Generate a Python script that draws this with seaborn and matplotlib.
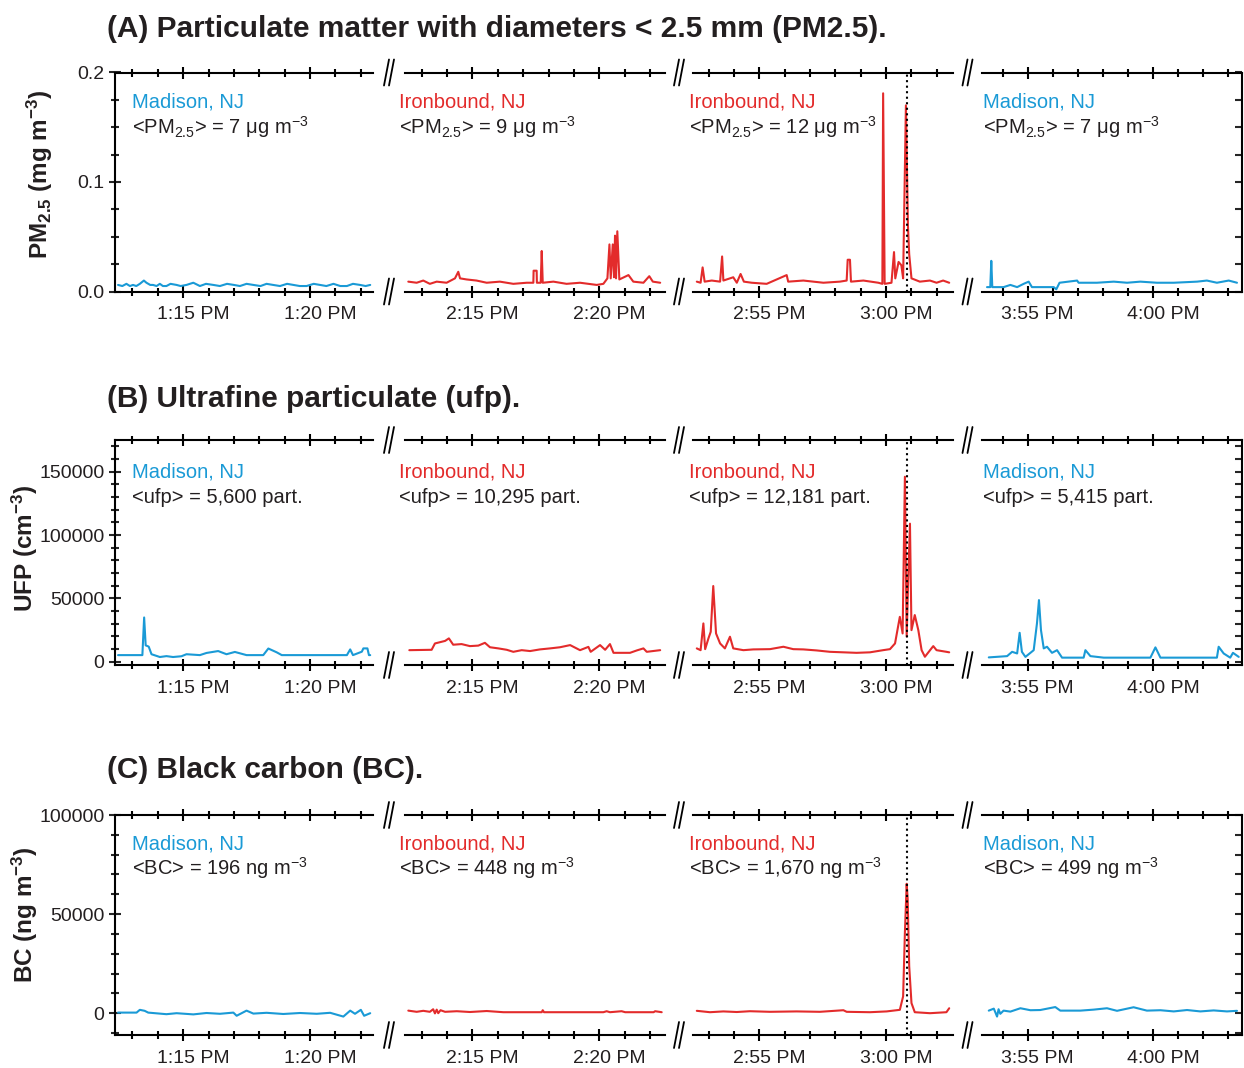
import numpy as np
import pandas as pd
import matplotlib
matplotlib.use('Agg')
import matplotlib.pyplot as plt
import seaborn as sns
from matplotlib.ticker import MultipleLocator, FuncFormatter, FormatStrFormatter
from matplotlib.lines import Line2D
from matplotlib.transforms import ScaledTranslation

# tiempos en minutos despues de las 12:00 PM
# ---- PM2.5 (mg m-3) ----
pm_t1 = [72.43, 72.60, 72.76, 72.90, 73.02, 73.15, 73.29, 73.45, 73.55, 73.70, 73.81, 73.95, 74.08, 74.20,
         74.34, 74.50, 74.74, 74.90, 75.13, 75.40, 75.66, 75.90, 76.19, 76.45, 76.73, 77.00, 77.24, 77.50,
         77.77, 78.05, 78.29, 78.55, 78.82, 79.10, 79.35, 79.60, 79.87, 80.15, 80.40, 80.65, 80.93, 81.20,
         81.46, 81.70, 81.98, 82.20, 82.38]
pm_v1 = [0.006, 0.005, 0.007, 0.005, 0.006, 0.005, 0.007, 0.010, 0.008, 0.006, 0.006, 0.005, 0.007, 0.005,
         0.005, 0.007, 0.006, 0.005, 0.006, 0.008, 0.005, 0.007, 0.006, 0.005, 0.007, 0.006, 0.005, 0.007,
         0.006, 0.005, 0.007, 0.006, 0.005, 0.007, 0.006, 0.005, 0.005, 0.007, 0.006, 0.005, 0.007, 0.005,
         0.005, 0.007, 0.006, 0.005, 0.006]
pm_t2 = [132.47, 132.80, 133.06, 133.32, 133.59, 133.98, 134.31, 134.44, 134.51, 134.77, 135.16, 135.56,
         136.08, 136.61, 137.14, 137.40, 137.41, 137.53, 137.54, 137.69, 137.73, 137.77, 138.19, 138.71,
         139.24, 139.90, 140.16, 140.32, 140.40, 140.45, 140.53, 140.58, 140.62, 140.66, 140.71, 140.79,
         141.15, 141.34, 141.74, 141.97, 142.11, 142.40]
pm_v2 = [0.009, 0.008, 0.010, 0.007, 0.009, 0.008, 0.012, 0.018, 0.012, 0.011, 0.010, 0.008,
         0.009, 0.007, 0.008, 0.008, 0.019, 0.019, 0.008, 0.008, 0.037, 0.008, 0.009, 0.007,
         0.008, 0.006, 0.007, 0.012, 0.043, 0.012, 0.043, 0.013, 0.051, 0.012, 0.055, 0.011,
         0.015, 0.009, 0.008, 0.014, 0.009, 0.008]
pm_t3 = [172.53, 172.68, 172.76, 172.84, 173.12, 173.45, 173.53, 173.58, 173.97, 174.11, 174.26, 174.39,
         174.70, 175.29, 176.08, 176.14, 176.74, 177.53, 178.18, 178.45, 178.49, 178.58, 178.62, 179.11,
         179.70, 179.86, 179.89, 179.95, 180.22, 180.32, 180.37, 180.50, 180.61, 180.68, 180.79, 180.87,
         180.92, 181.01, 181.34, 181.74, 182.00, 182.26, 182.50]
pm_v3 = [0.009, 0.008, 0.022, 0.009, 0.010, 0.009, 0.032, 0.010, 0.013, 0.008, 0.016, 0.009,
         0.008, 0.007, 0.015, 0.009, 0.010, 0.008, 0.009, 0.010, 0.029, 0.029, 0.009, 0.010,
         0.008, 0.007, 0.181, 0.007, 0.008, 0.036, 0.012, 0.027, 0.024, 0.012, 0.170, 0.060,
         0.034, 0.012, 0.009, 0.010, 0.008, 0.010, 0.008]
pm_t4 = [233.38, 233.51, 233.55, 233.59, 234.04, 234.31, 234.58, 234.84, 235.04, 235.17, 235.64, 236.04,
         236.14, 236.27, 236.97, 237.03, 237.76, 238.43, 238.96, 239.49, 240.15, 240.82, 241.75, 242.14,
         242.54, 243.01, 243.34]
pm_v4 = [0.004, 0.004, 0.028, 0.004, 0.004, 0.006, 0.004, 0.007, 0.009, 0.004, 0.004, 0.004,
         0.002, 0.008, 0.010, 0.008, 0.008, 0.009, 0.008, 0.009, 0.008, 0.008, 0.009, 0.010,
         0.008, 0.010, 0.008]

# ---- UFP (cm-3) ----
ufp_t1 = [72.43, 73.39, 73.46, 73.52, 73.64, 73.75, 74.08, 74.34, 74.60, 74.93, 75.13, 75.66, 75.92,
          76.38, 76.71, 77.04, 77.50, 78.16, 78.36, 78.69, 78.89, 80.67, 81.46, 81.59, 81.70, 82.05,
          82.11, 82.27, 82.33, 82.38]
ufp_v1 = [5300, 5300, 35000, 13000, 12000, 6000, 3800, 4500, 3800, 4400, 6000, 5300, 7000,
          8500, 6000, 7800, 5300, 5300, 10500, 7500, 5300, 5300, 5300, 9800, 5300, 8000,
          10600, 10600, 5300, 5300]
ufp_t2 = [132.51, 133.39, 133.52, 133.78, 133.92, 134.07, 134.24, 134.57, 134.90, 135.23, 135.49, 135.69,
          136.02, 136.35, 136.61, 136.94, 137.27, 137.66, 138.06, 138.45, 138.85, 139.24, 139.57, 139.66,
          140.03, 140.23, 140.42, 140.56, 141.21, 141.48, 141.74, 141.87, 142.40]
ufp_v2 = [9200, 9500, 14500, 15800, 16500, 18500, 13500, 14000, 12400, 12800, 15000, 11500,
          10600, 9500, 7900, 9200, 8500, 9800, 10600, 11500, 13200, 9200, 11800, 7900,
          13200, 9500, 14000, 7100, 7100, 9000, 10600, 7900, 9200]
ufp_t3 = [172.53, 172.68, 172.79, 172.86, 172.99, 173.08, 173.18, 173.29, 173.45, 173.64, 173.84, 173.97,
          174.37, 174.76, 175.42, 175.95, 176.34, 176.74, 177.26, 177.79, 178.32, 178.84, 179.37, 179.89,
          180.16, 180.36, 180.55, 180.66, 180.75, 180.82, 180.88, 180.95, 181.01, 181.14, 181.28, 181.41,
          181.54, 181.87, 182.00, 182.39, 182.50]
ufp_v3 = [10600, 9200, 30300, 10000, 18500, 23700, 59800, 22400, 14500, 10600, 19800, 10600,
          9200, 9800, 10000, 11900, 10000, 9800, 9000, 7900, 7500, 7100, 7500, 9200,
          10000, 14500, 35500, 22400, 146000, 20000, 64500, 109000, 25000, 36900, 25000, 9200,
          4000, 12400, 9200, 7900, 7500]
ufp_t4 = [233.45, 234.18, 234.38, 234.58, 234.68, 234.77, 234.91, 235.24, 235.37, 235.45, 235.53, 235.64,
          235.77, 235.97, 236.17, 236.37, 237.23, 237.30, 237.50, 238.03, 239.89, 240.09, 240.29, 242.54,
          242.61, 242.81, 243.07, 243.18, 243.41]
ufp_v4 = [3500, 4500, 7900, 6600, 22900, 7900, 3900, 9200, 30300, 48700, 25000, 10600,
          11900, 7100, 9200, 3300, 3300, 9200, 4500, 3300, 3300, 11400, 3300, 3300,
          11900, 6600, 3300, 7100, 3900]

# ---- BC (ng m-3) ----
bc_t1 = [72.43, 73.16, 73.29, 73.48, 73.62, 74.34, 74.74, 75.40, 75.92, 76.45, 76.98, 77.11, 77.50,
         77.77, 78.29, 78.95, 79.61, 80.27, 80.80, 81.32, 81.59, 81.78, 82.01, 82.14, 82.38]
bc_v1 = [300, 300, 1700, 1200, 300, -500, 0, -600, 100, -300, 300, -1300, 1300,
         -200, 200, -400, 100, -300, 200, -1700, 1300, -300, 1700, -1300, 0]
bc_t2 = [132.47, 132.80, 133.06, 133.32, 133.45, 133.52, 133.59, 133.65, 133.74, 133.92, 134.38, 134.90,
         135.56, 136.22, 137.73, 137.77, 137.82, 140.16, 140.29, 140.42, 140.88, 141.02, 142.14, 142.20,
         142.46]
bc_v2 = [1300, 700, 1200, 700, 2000, -100, 1800, 0, 1500, 700, 1000, 600,
         1100, 500, 500, 1500, 500, 500, 1000, 500, 1000, 500, 500, 1000,
         500]
bc_t3 = [172.53, 173.05, 173.58, 174.11, 174.63, 175.42, 176.47, 177.39, 178.32, 178.45, 179.37, 180.03,
         180.55, 180.68, 180.75, 180.82, 180.86, 180.92, 181.01, 181.14, 181.74, 182.39, 182.50]
bc_v3 = [1200, 500, 900, 600, 1000, 700, 900, 700, 1500, 700, 500, 900,
         1700, 8500, 40700, 65300, 57600, 23700, 5100, 500, 0, 500, 2500]
bc_t4 = [233.45, 233.65, 233.71, 233.78, 233.84, 233.91, 234.04, 234.31, 234.71, 235.11, 235.50, 236.10,
         236.30, 237.10, 237.63, 238.16, 238.56, 239.22, 239.75, 240.29, 240.82, 241.35, 241.88, 242.41,
         242.94, 243.34]
bc_v4 = [1300, 2300, 500, -1700, 2000, -300, 1300, 800, 2500, 1500, 1600, 3100,
         1300, 1300, 1800, 2500, 1200, 3000, 1300, 1500, 900, 1600, 900, 1400,
         900, 1200]

sitios = ['Madison, NJ', 'Ironbound, NJ', 'Ironbound, NJ', 'Madison, NJ']
medias_pm = ['7', '9', '12', '7']
medias_ufp = ['5,600', '10,295', '12,181', '5,415']
medias_bc = ['196', '448', '1,670', '499']
limites_x = [(72.31, 82.49), (132.34, 142.59), (172.38, 182.65), (233.18, 243.54)]
evento = 180.82  # linea punteada en el tercer tramo

titulos = ['(A) Particulate matter with diameters < 2.5 mm (PM2.5).',
           '(B) Ultrafine particulate (ufp).',
           '(C) Black carbon (BC).']

# ---- estilo ----
sns.set_style('ticks')
plt.rcParams['font.family'] = ['Liberation Sans', 'DejaVu Sans']
plt.rcParams['mathtext.fontset'] = 'custom'
plt.rcParams['mathtext.rm'] = 'Liberation Sans'
plt.rcParams['mathtext.it'] = 'Liberation Sans:italic'
plt.rcParams['mathtext.bf'] = 'Liberation Sans:bold'

AZUL = '#1a9ad6'
ROJO = '#e32b2b'
TEXTO = '#231f20'
colores = [AZUL, ROJO, ROJO, AZUL]

W, H = 1244, 1068
fig = plt.figure(figsize=(W / 100, H / 100), dpi=100)

cols = [(115, 373), (405, 665), (693, 953), (982, 1242)]
filas = [(72.5, 291.5), (440, 665), (815, 1035)]

series = [
    [(pm_t1, pm_v1), (pm_t2, pm_v2), (pm_t3, pm_v3), (pm_t4, pm_v4)],
    [(ufp_t1, ufp_v1), (ufp_t2, ufp_v2), (ufp_t3, ufp_v3), (ufp_t4, ufp_v4)],
    [(bc_t1, bc_v1), (bc_t2, bc_v2), (bc_t3, bc_v3), (bc_t4, bc_v4)],
]
textos = [
    ['<PM$_{2.5}$> = %s μg m$^{-3}$' % m for m in medias_pm],
    ['<ufp> = %s part.' % m for m in medias_ufp],
    ['<BC> = %s ng m$^{-3}$' % m for m in medias_bc],
]
ylims = [(0, 0.2), (-2500, 175000), (-11000, 100000)]
ymaj = [0.1, 50000, 50000]
ymin = [0.025, 10000, 10000]
yfmt = [FormatStrFormatter('%.1f'), FormatStrFormatter('%d'), FormatStrFormatter('%d')]
off_txt = [(35, 61), (38, 63), (35, 60)]
off_x = [17, -6, -4, 1]

# las etiquetas de hora del original quedan algo corridas a la derecha del tick
corrimiento = ScaledTranslation(10 / 100, 0, fig.dpi_scale_trans)


def etiqueta_hora(m, pos):
    m = int(round(m))
    h = m // 60
    hora = 12 if h == 0 else h
    return f'{hora}:{m % 60:02d} PM'


ejes = []
for i, (top, bot) in enumerate(filas):
    for j, (l, r) in enumerate(cols):
        ax = fig.add_axes([l / W, 1 - bot / H, (r - l) / W, (bot - top) / H])
        ejes.append(ax)
        t, v = series[i][j]
        df = pd.DataFrame({'t': t, 'v': v})
        sns.lineplot(data=df, x='t', y='v', ax=ax, color=colores[j], linewidth=1.5,
                     estimator=None, sort=False)
        if j == 2:
            ax.axvline(evento, color='black', linestyle=':', linewidth=1.5)
        ax.set_xlim(limites_x[j])
        ax.set_ylim(ylims[i])
        ax.set_xlabel('')
        ax.set_ylabel('')

        ax.xaxis.set_major_locator(MultipleLocator(5))
        ax.xaxis.set_minor_locator(MultipleLocator(1))
        ax.xaxis.set_major_formatter(FuncFormatter(etiqueta_hora))
        ax.tick_params(axis='x', which='both', top=True, bottom=True, direction='inout',
                       labeltop=False, width=1.5, colors='black', labelcolor=TEXTO)
        ax.tick_params(axis='x', which='major', length=9, labelsize=14, pad=6)
        ax.tick_params(axis='x', which='minor', length=5.5)

        ax.yaxis.set_major_locator(MultipleLocator(ymaj[i]))
        ax.yaxis.set_minor_locator(MultipleLocator(ymin[i]))
        ax.yaxis.set_major_formatter(yfmt[i])
        for s in ax.spines.values():
            s.set_linewidth(1.5)
            s.set_color('black')
        ax.spines['left'].set_visible(j == 0)
        ax.spines['right'].set_visible(j == 3)
        if j == 0:
            ax.tick_params(axis='y', which='both', left=True, right=False, direction='inout',
                           width=1.5, labelsize=14, pad=3, labelcolor=TEXTO)
            ax.tick_params(axis='y', which='major', length=9)
            ax.tick_params(axis='y', which='minor', length=5.5)
        elif j == 3:
            ax.tick_params(axis='y', which='both', left=False, right=True, direction='in',
                           labelleft=False, labelright=False, width=1.5, length=5)
        else:
            ax.tick_params(axis='y', which='both', left=False, right=False,
                           labelleft=False, labelright=False)

        wpx, hpx = r - l, bot - top
        ax.text(off_x[j] / wpx, 1 - off_txt[i][0] / hpx, sitios[j], transform=ax.transAxes,
                color=colores[j], fontsize=14.5, ha='left', va='baseline')
        ax.text(off_x[j] / wpx, 1 - off_txt[i][1] / hpx, textos[i][j], transform=ax.transAxes,
                color=TEXTO, fontsize=14.5, ha='left', va='baseline')

    # marcas de corte "//" entre tramos
    for xc in [389, 679, 967.5]:
        for yc in (top, bot):
            for d in (-2.5, 2.5):
                x0, x1 = xc + d - 2.5, xc + d + 2.5
                y0, y1 = yc + 13, yc - 13
                fig.add_artist(Line2D([x0 / W, x1 / W], [1 - y0 / H, 1 - y1 / H],
                                      color='black', linewidth=1.3))

for ax in ejes:
    for lab in ax.xaxis.get_majorticklabels():
        lab.set_transform(lab.get_transform() + corrimiento)

# titulos de cada bloque
for titulo, yb in zip(titulos, [37, 406.7, 778.3]):
    fig.text(107 / W, 1 - yb / H, titulo, fontsize=21.5, fontweight='bold',
             color=TEXTO, ha='left', va='baseline')

# etiquetas del eje y
ylabels = [r'PM$_{\mathbf{2.5}}$ (mg m$^{\mathbf{-3}}$)',
           r'UFP (cm$^{\mathbf{-3}}$)',
           r'BC (ng m$^{\mathbf{-3}}$)']
for lab, (xc, yc) in zip(ylabels, [(40, 174), (25, 548), (25, 915)]):
    fig.text(xc / W, 1 - yc / H, lab, rotation=90, fontsize=17.5, fontweight='bold',
             color=TEXTO, ha='center', va='center')

fig.savefig('out.png', dpi=100)
